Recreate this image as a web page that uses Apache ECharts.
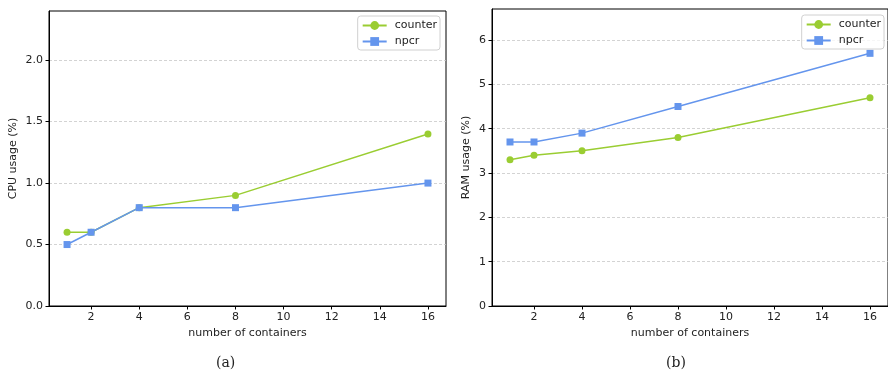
<!DOCTYPE html>
<html>
<head>
<meta charset="utf-8">
<script src="https://cdn.jsdelivr.net/npm/echarts@6/dist/echarts.min.js"></script>
<style>html,body{margin:0;padding:0;background:#fff}#c{width:888px;height:378px}</style>
</head>
<body>
<div id="c"></div>
<script>
const containers = [1, 2, 4, 8, 16];
const xTicks = [2, 4, 6, 8, 10, 12, 14, 16];
const cpuCounter = [0.6, 0.6, 0.8, 0.9, 1.4];
const cpuNpcr = [0.5, 0.6, 0.8, 0.8, 1.0];
const ramCounter = [3.3, 3.4, 3.5, 3.8, 4.7];
const ramNpcr = [3.7, 3.7, 3.9, 4.5, 5.7];
const cpuTicks = [0, 0.5, 1.0, 1.5, 2.0];
const ramTicks = [0, 1, 2, 3, 4, 5, 6];

const GREEN = '#9acd32', BLUE = '#6495ed';
const FONT = 'DejaVu Sans';
const FS = 11;
const pairs = (ys) => containers.map((x, i) => [x, ys[i]]);

function xAxis(gi) {
  return {
    type: 'value', gridIndex: gi, min: 0.25, max: 16.75,
    name: 'number of containers', nameLocation: 'middle', nameGap: 22,
    nameTextStyle: {fontFamily: FONT, fontSize: FS, color: '#222'},
    axisLine: {show: true, onZero: false, lineStyle: {color: '#000', width: 1}},
    axisTick: {show: true, length: 3.5, customValues: xTicks, lineStyle: {color: '#000'}},
    axisLabel: {customValues: xTicks, fontFamily: FONT, fontSize: FS, color: '#222', margin: 6},
    splitLine: {show: false}
  };
}
function yAxis(gi, max, ticks, name, gap, fmt) {
  return {
    type: 'value', gridIndex: gi, min: 0, max: max,
    name: name, nameLocation: 'middle', nameGap: gap, nameRotate: 90,
    nameTextStyle: {fontFamily: FONT, fontSize: FS, color: '#222'},
    axisLine: {show: true, lineStyle: {color: '#000', width: 1}},
    axisTick: {show: true, length: 3.5, customValues: ticks, lineStyle: {color: '#000'}},
    axisLabel: {customValues: ticks, fontFamily: FONT, fontSize: FS, color: '#222', margin: 6, formatter: fmt},
    splitLine: {show: true, lineStyle: {color: '#c8c8c8', type: [3, 2], width: 0.8}}
  };
}
function line(name, data, sym, color, xi) {
  return {
    name: name, type: 'line', xAxisIndex: xi, yAxisIndex: xi, data: pairs(data),
    symbol: sym, symbolSize: 7, showSymbol: true,
    lineStyle: {color: color, width: 1.5}, itemStyle: {color: color},
    emphasis: {disabled: true}, animation: false
  };
}
function legend(right, top) {
  return {
    right: right, top: top, orient: 'vertical', itemGap: 5, itemWidth: 24, itemHeight: 11,
    padding: [4, 3, 3, 4],
    backgroundColor: 'rgba(255,255,255,0.8)', borderColor: '#d0d0d0', borderWidth: 1, borderRadius: 3,
    textStyle: {fontFamily: FONT, fontSize: FS, color: '#222', padding: [0, 0, 0, 3]},
    data: ['counter', 'npcr']
  };
}
const chart = echarts.init(document.getElementById('c'), null, {renderer: 'canvas'});
chart.setOption({
  animation: false,
  grid: [
    {left: 49, top: 11, width: 397, height: 295, show: true, borderColor: '#000', borderWidth: 1, containLabel: false},
    {left: 492, top: 9, width: 397, height: 297, show: true, borderColor: '#000', borderWidth: 1, containLabel: false}
  ],
  xAxis: [xAxis(0), xAxis(1)],
  yAxis: [
    yAxis(0, 2.4, cpuTicks, 'CPU usage (%)', 30, v => v.toFixed(1)),
    yAxis(1, 6.7, ramTicks, 'RAM usage (%)', 20, v => String(v))
  ],
  legend: [legend(448, 16), legend(4, 15)],
  series: [
    line('counter', cpuCounter, 'circle', GREEN, 0),
    line('npcr', cpuNpcr, 'rect', BLUE, 0),
    line('counter', ramCounter, 'circle', GREEN, 1),
    line('npcr', ramNpcr, 'rect', BLUE, 1)
  ],
  graphic: [
    {type: 'text', left: 216, top: 356, style: {text: '(a)', font: '14px "DejaVu Serif"', fill: '#222'}},
    {type: 'text', left: 666, top: 356, style: {text: '(b)', font: '14px "DejaVu Serif"', fill: '#222'}}
  ]
});
</script>
</body>
</html>
